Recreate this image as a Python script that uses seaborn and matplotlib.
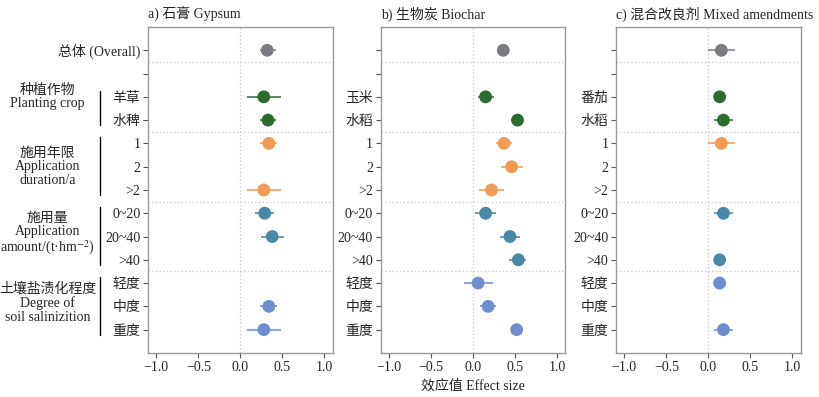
import numpy as np
import pandas as pd
import matplotlib.pyplot as plt
import seaborn as sns

# rows from top to bottom (row 1 is an empty spacer row)
ROW_GROUP = ["overall", "none", "crop", "crop", "dur", "dur", "dur",
             "amt", "amt", "amt", "sal", "sal", "sal"]
COMMON_TICKS = ["1", "2", ">2", "0~20", "20~40", ">40", "轻度", "中度", "重度"]

gypsum_ticks = ["总体 (Overall)", "", "羊草", "水稗"] + COMMON_TICKS
biochar_ticks = ["", "", "玉米", "水稻"] + COMMON_TICKS
mixed_ticks = ["", "", "番茄", "水稻"] + COMMON_TICKS

nan = np.nan
gypsum_mean = [0.32, nan, 0.28, 0.33, 0.34, nan, 0.28, 0.29, 0.38, nan, nan, 0.34, 0.28]
gypsum_low = [0.24, nan, 0.08, 0.24, 0.24, nan, 0.08, 0.18, 0.25, nan, nan, 0.24, 0.08]
gypsum_high = [0.42, nan, 0.49, 0.43, 0.44, nan, 0.49, 0.40, 0.52, nan, nan, 0.44, 0.49]

biochar_mean = [0.36, nan, 0.15, 0.53, 0.37, 0.46, 0.22, 0.15, 0.44, 0.54, 0.06, 0.18, 0.52]
biochar_low = [0.34, nan, 0.06, 0.51, 0.27, 0.33, 0.07, 0.02, 0.32, 0.43, -0.11, 0.08, 0.50]
biochar_high = [0.38, nan, 0.25, 0.55, 0.47, 0.60, 0.37, 0.27, 0.56, 0.63, 0.24, 0.27, 0.54]

mixed_mean = [0.155, nan, 0.135, 0.18, 0.155, nan, nan, 0.18, nan, 0.135, 0.135, nan, 0.18]
mixed_low = [0.0, nan, 0.12, 0.07, 0.0, nan, nan, 0.07, nan, 0.12, 0.12, nan, 0.07]
mixed_high = [0.32, nan, 0.15, 0.29, 0.32, nan, nan, 0.29, nan, 0.15, 0.15, nan, 0.29]

GROUP_COLORS = {"overall": "#7b7b82", "none": "#7b7b82", "crop": "#2e6b30",
                "dur": "#ef9a55", "amt": "#4a88a8", "sal": "#6f8ccf"}

GROUP_LABELS = [
    ("种植作物\nPlanting crop", 2, 3, 2.0),
    ("施用年限\nApplication\nduration/a", 4, 6, 5.0),
    ("施用量\nApplication\namount/(t·hm$^{-2}$)", 7, 9, 7.9),
    ("土壤盐渍化程度\nDegree of\nsoil salinizition", 10, 12, 10.85),
]

panels = [
    ("a) 石膏 Gypsum", gypsum_ticks, gypsum_mean, gypsum_low, gypsum_high),
    ("b) 生物炭 Biochar", biochar_ticks, biochar_mean, biochar_low, biochar_high),
    ("c) 混合改良剂 Mixed amendments", mixed_ticks, mixed_mean, mixed_low, mixed_high),
]

sns.set_theme(style="white")
plt.rcParams["font.family"] = ["Liberation Serif", "Noto Sans CJK SC"]
plt.rcParams["mathtext.fontset"] = "stix"
plt.rcParams["axes.unicode_minus"] = True

fig = plt.figure(figsize=(8.19, 3.97), dpi=100)
lefts = [0.1807, 0.4648, 0.7521]
axes = [fig.add_axes([l, 0.111, 0.2255, 0.821]) for l in lefts]

for ax, (title, ticks, mean, low, high) in zip(axes, panels):
    df = pd.DataFrame({"row": np.arange(len(ROW_GROUP)), "group": ROW_GROUP,
                       "mean": mean, "low": low, "high": high}).dropna()
    for _, r in df.iterrows():
        ax.hlines(r["row"], r["low"], r["high"], color=GROUP_COLORS[r["group"]],
                  lw=1.4, alpha=0.8, zorder=2)
    sns.scatterplot(data=df, x="mean", y="row", hue="group", palette=GROUP_COLORS,
                    s=85, edgecolor="none", legend=False, ax=ax, zorder=3)

    ax.axvline(0, color="#cccccc", ls=":", lw=1, zorder=1)
    for sep in [0.5, 3.5, 6.5, 9.5]:
        ax.axhline(sep, color="#cccccc", ls=":", lw=1, zorder=1)

    ax.set_xlim(-1.1, 1.1)
    ax.set_ylim(13, -1)
    ax.set_xticks([-1.0, -0.5, 0.0, 0.5, 1.0])
    ax.set_xticklabels(["−1.0", "−0.5", "0.0", "0.5", "1.0"])
    ax.set_yticks(range(len(ticks)))
    ax.set_yticklabels(ticks)
    ax.tick_params(axis="both", length=3.5, width=0.8, color="#555555",
                   labelsize=10, pad=2, left=True, bottom=True)
    for sp in ax.spines.values():
        sp.set_color("#999999")
        sp.set_linewidth(1)
    ax.set_xlabel("")
    ax.set_ylabel("")
    ax.set_title(title, loc="left", fontsize=10, pad=6)

axes[1].set_xlabel("效应值 Effect size", fontsize=10, labelpad=4)

# group brackets and labels on the left of panel a
ax = axes[0]
trans = ax.get_yaxis_transform()
for text, r0, r1, yc in GROUP_LABELS:
    ax.plot([-0.261, -0.261], [r0 - 0.27, r1 + 0.22], color="black", lw=1,
            transform=trans, clip_on=False)
    ax.text(-0.543, yc, text, transform=trans, ha="center", va="center",
            fontsize=10, linespacing=1.05)

fig.savefig("out.png", dpi=100)
